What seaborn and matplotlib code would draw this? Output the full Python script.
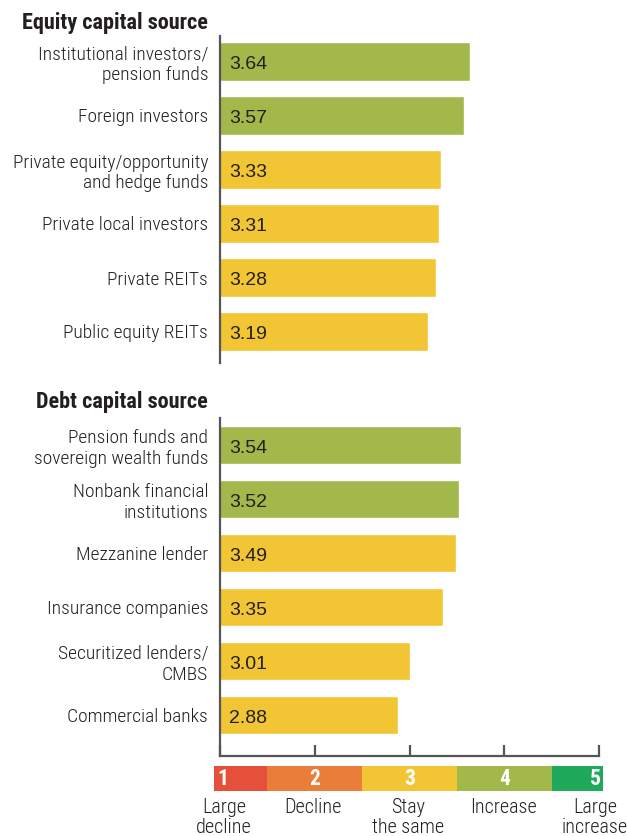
import matplotlib
matplotlib.use("Agg")
import matplotlib.pyplot as plt
import seaborn as sns
import pandas as pd

sns.set_theme(style="white")
plt.rcParams["font.family"] = ["Roboto Condensed", "Archivo Narrow", "DejaVu Sans"]

# Survey scores (1 = large decline ... 5 = large increase)
equity_labels = [
    "Institutional investors/\npension funds",
    "Foreign investors",
    "Private equity/opportunity\nand hedge funds",
    "Private local investors",
    "Private REITs",
    "Public equity REITs",
]
equity_values = [3.64, 3.57, 3.33, 3.31, 3.28, 3.19]

debt_labels = [
    "Pension funds and\nsovereign wealth funds",
    "Nonbank financial\ninstitutions",
    "Mezzanine lender",
    "Insurance companies",
    "Securitized lenders/\nCMBS",
    "Commercial banks",
]
debt_values = [3.54, 3.52, 3.49, 3.35, 3.01, 2.88]

scale_numbers = ["1", "2", "3", "4", "5"]
scale_labels = ["Large\ndecline", "Decline", "Stay\nthe same", "Increase", "Large\nincrease"]
scale_colors = ["#E4503A", "#EA7D37", "#F2C534", "#A3B84A", "#1FA95A"]

GREEN = "#A3B84A"
YELLOW = "#F2C534"
TEXT = "#231F20"
AXIS = "#555555"

W, H = 627, 836
fig = plt.figure(figsize=(W / 100, H / 100), dpi=100)

UNIT = 94.75      # pixels per score unit
X1 = 220          # pixel position of score 1
AX_RIGHT = 620


def px_axes(left, top, right, bottom):
    return fig.add_axes([left / W, 1 - bottom / H, (right - left) / W, (bottom - top) / H])


def draw_panel(top, bottom, first_center, labels, values, title, title_base, show_bottom):
    ax = px_axes(X1, top, AX_RIGHT, bottom)
    df = pd.DataFrame({
        "source": labels,
        "score": values,
        "band": ["Increase" if v >= 3.5 else "Same" for v in values],
    })
    sns.barplot(data=df, x="score", y="source", hue="band",
                palette={"Increase": GREEN, "Same": YELLOW},
                dodge=False, legend=False, width=0.72, saturation=1,
                ax=ax, orient="h")
    spacing = 54.0
    ax.set_xlim(1, 1 + (AX_RIGHT - X1) / UNIT)
    ax.set_ylim((bottom - first_center) / spacing, -(first_center - top) / spacing)
    for i, v in enumerate(values):
        ax.text(1.1, i + 0.06, f"{v:.2f}", va="center", ha="left", fontsize=14,
                color=TEXT, family="Liberation Sans")
    ax.set_xlabel("")
    ax.set_ylabel("")
    ax.set_yticks(range(len(labels)))
    ax.set_yticklabels(labels, fontsize=14, color=TEXT, linespacing=1.2,
                       fontweight="light")
    ax.tick_params(axis="y", length=0, pad=8.5)
    for s in ["top", "right"]:
        ax.spines[s].set_visible(False)
    ax.spines["left"].set_color(AXIS)
    ax.spines["left"].set_linewidth(1.6)
    if show_bottom:
        ax.spines["bottom"].set_color(AXIS)
        ax.spines["bottom"].set_linewidth(1.6)
        ax.spines["bottom"].set_bounds(1, 5)
        ax.set_xticks([1, 2, 3, 4, 5])
        ax.set_xticklabels([])
        ax.tick_params(axis="x", direction="in", length=8, width=1.6, color=AXIS, bottom=True)
    else:
        ax.spines["bottom"].set_visible(False)
        ax.set_xticks([])
    fig.text(208 / W, 1 - title_base / H, title, ha="right", va="baseline",
             fontsize=16, fontweight="bold", color=TEXT)
    return ax


draw_panel(36, 363, 61.5, equity_labels, equity_values, "Equity capital source", 29, False)
draw_panel(418, 756, 445, debt_labels, debt_values, "Debt capital source", 408, True)

# Colour key for the 1-5 scale
kax = px_axes(214, 766, 603, 791)
xmin = 1 - 6 / UNIT
xmax = 5 + 4 / UNIT
edges = [xmin, 1.5, 2.5, 3.5, 4.5, xmax]
num_x = [1.03, 2, 3, 4, 4.96]
key = pd.DataFrame({"num": scale_numbers, "left": edges[:-1], "right": edges[1:], "pos": num_x})
for i, row in key.iterrows():
    kax.barh(0, row["right"] - row["left"], left=row["left"], height=1,
             color=scale_colors[i], linewidth=0)
    kax.text(row["pos"], -0.02, row["num"], ha="center", va="center", color="white",
             fontsize=15.5, fontweight="bold")
kax.set_xlim(xmin, xmax)
kax.set_ylim(-0.5, 0.5)
kax.axis("off")

# Scale descriptions, one baseline per line
label_x = [224, 313, 408, 503, 595]
for x, lab in zip(label_x, scale_labels):
    for k, line in enumerate(lab.split("\n")):
        fig.text(x / W, 1 - (813 + 20 * k) / H, line, ha="center", va="baseline",
                 fontsize=14.5, color=TEXT, fontweight="light")

fig.savefig("out.png", dpi=100, facecolor="white")
